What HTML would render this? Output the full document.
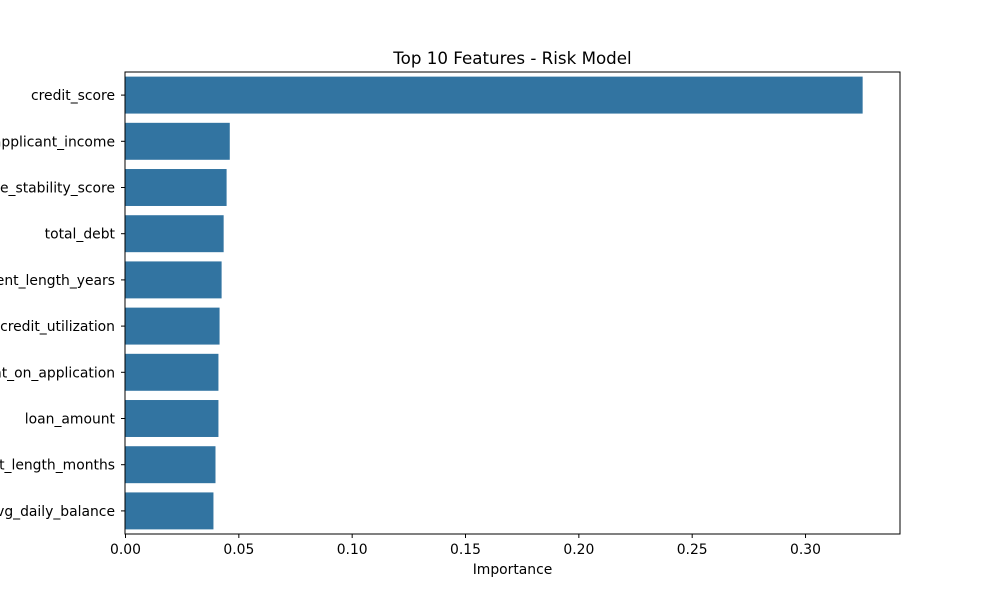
<!DOCTYPE html>
<html><head><meta charset="utf-8"><style>
body{margin:0;background:#fff;}
svg text{font-family:"DejaVu Sans","Liberation Sans",sans-serif;fill:#000;}
</style></head><body>
<svg id="chart" width="1000" height="600">
<rect width="1000" height="600" fill="#fff"/>
<g id="bars"></g><g id="yticks"></g><g id="xticks"></g>
<rect x="125" y="72" width="775" height="462" fill="none" stroke="#000" stroke-width="1"/>
<text x="512.5" y="64" font-size="16.7" text-anchor="middle">Top 10 Features - Risk Model</text>
<text x="512.5" y="574" font-size="13.9" text-anchor="middle">Importance</text>
</svg>
<script>
const features = ["credit_score","applicant_income","income_stability_score","total_debt","employment_length_years","credit_utilization","time_spent_on_application","loan_amount","account_length_months","avg_daily_balance"];
const importance = [0.3252,0.0460,0.0446,0.0433,0.0424,0.0415,0.0410,0.0410,0.0397,0.0388];
const xTickValues = [0,0.05,0.10,0.15,0.20,0.25,0.30];
const xTickLabels = ["0.00","0.05","0.10","0.15","0.20","0.25","0.30"];
const L=125.5,T=72,W=775,H=462,XMAX=0.3419;
const NS="http://www.w3.org/2000/svg";
function xs(v){return L+v/XMAX*W;}
function ys(i){return T+(i+0.5)/features.length*H;}
function mk(t,a,p){const e=document.createElementNS(NS,t);for(const k in a)e.setAttribute(k,a[k]);p.appendChild(e);return e;}
const bars=document.getElementById('bars'),yt=document.getElementById('yticks'),xt=document.getElementById('xticks');
const bh=0.8*H/features.length;
features.forEach((f,i)=>{
  const r=mk('rect',{x:xs(0),y:ys(i)-bh/2,width:xs(importance[i])-xs(0),height:bh,fill:'#3274a1'},bars);
  
  
  mk('line',{x1:125,x2:121,y1:ys(i),y2:ys(i),stroke:'#000'},yt);
  const t=mk('text',{x:115,y:ys(i)+5,'font-size':13.9,'text-anchor':'end'},yt);
  t.textContent=f;
  
  
});
xTickValues.forEach((v,i)=>{
  mk('line',{x1:xs(v),x2:xs(v),y1:534,y2:538,stroke:'#000'},xt);
  const t=mk('text',{x:xs(v),y:554,'font-size':13.9,'text-anchor':'middle'},xt);
  t.textContent=xTickLabels[i];
  
  
});
</script>
</body></html>
